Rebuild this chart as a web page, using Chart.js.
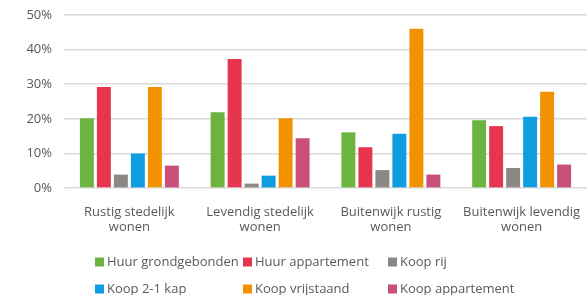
<!DOCTYPE html>
<html>
<head>
<meta charset="utf-8">
<script src="https://cdn.jsdelivr.net/npm/chart.js@4"></script>
<style>
html,body{margin:0;padding:0;background:#fff;overflow:hidden;}
canvas{display:block;}
</style>
</head>
<body>
<canvas id="chart" width="587" height="295"></canvas>
<script>
const categories = [
  ["Rustig stedelijk", "wonen"],
  ["Levendig stedelijk", "wonen"],
  ["Buitenwijk rustig", "wonen"],
  ["Buitenwijk levendig", "wonen"]
];

const seriesNames = ["Huur grondgebonden", "Huur appartement", "Koop rij", "Koop 2-1 kap", "Koop vrijstaand", "Koop appartement"];
const seriesColors = ["#6db33f", "#e8354f", "#8b8784", "#0e9de0", "#f39200", "#c94f7b"];

// percentages per series, one value per category
const huurGrond = [20.2, 21.9, 16.1, 19.6];
const huurApp = [29.2, 37.3, 11.8, 17.9];
const koopRij = [3.9, 1.3, 5.2, 5.8];
const koop21 = [10.0, 3.6, 15.7, 20.6];
const koopVrij = [29.2, 20.2, 46.0, 27.8];
const koopApp = [6.5, 14.4, 3.9, 6.8];

const yTicks = [0, 10, 20, 30, 40, 50];

const seriesValues = [huurGrond, huurApp, koopRij, koop21, koopVrij, koopApp];

const textColor = "#595959";
const font = {family: "'Open Sans', sans-serif", size: 13};

// legend drawn as a 3 x 2 grid like the original
const gridLegend = {
  id: "gridLegend",
  afterDraw(chart) {
    const c = chart.ctx;
    const cols = [95, 243, 388];
    const rows = [262, 289];
    c.save();
    c.font = "13px 'Open Sans', sans-serif";
    c.textBaseline = "middle";
    chart.data.datasets.forEach((ds, i) => {
      const x = cols[i % 3];
      const y = rows[Math.floor(i / 3)];
      c.fillStyle = ds.backgroundColor;
      c.fillRect(x, y - 4.5, 9, 9);
      c.fillStyle = textColor;
      c.fillText(ds.label, x + 12, y);
    });
    c.restore();
  }
};

const ctx = document.getElementById("chart").getContext("2d");

new Chart(ctx, {
  type: "bar",
  data: {
    labels: categories,
    datasets: seriesNames.map((name, i) => ({
      label: name,
      data: seriesValues[i],
      backgroundColor: seriesColors[i],
      borderWidth: 0,
      categoryPercentage: 0.78,
      barPercentage: 0.82
    }))
  },
  options: {
    responsive: false,
    animation: false,
    layout: {padding: {top: 15, right: 0, bottom: 43, left: 0}},
    plugins: {legend: {display: false}, tooltip: {enabled: false}},
    scales: {
      x: {
        afterFit: (axis) => { axis.paddingLeft = 0; axis.paddingRight = 0; },
        grid: {display: false, drawTicks: false},
        border: {display: false},
        ticks: {color: textColor, font: {...font, lineHeight: 1.15}, padding: 17, maxRotation: 0}
      },
      y: {
        min: 0,
        max: 50,
        afterBuildTicks: (axis) => { axis.ticks = yTicks.map(v => ({value: v})); },
        afterFit: (axis) => { axis.width = 64; axis.paddingTop = 0; axis.paddingBottom = 0; },
        grid: {color: "#d9d9d9", lineWidth: 1.5, drawTicks: false},
        border: {display: false},
        ticks: {color: textColor, font: font, padding: 12, callback: v => v + "%"}
      }
    }
  },
  plugins: [gridLegend]
});
</script>
</body>
</html>
